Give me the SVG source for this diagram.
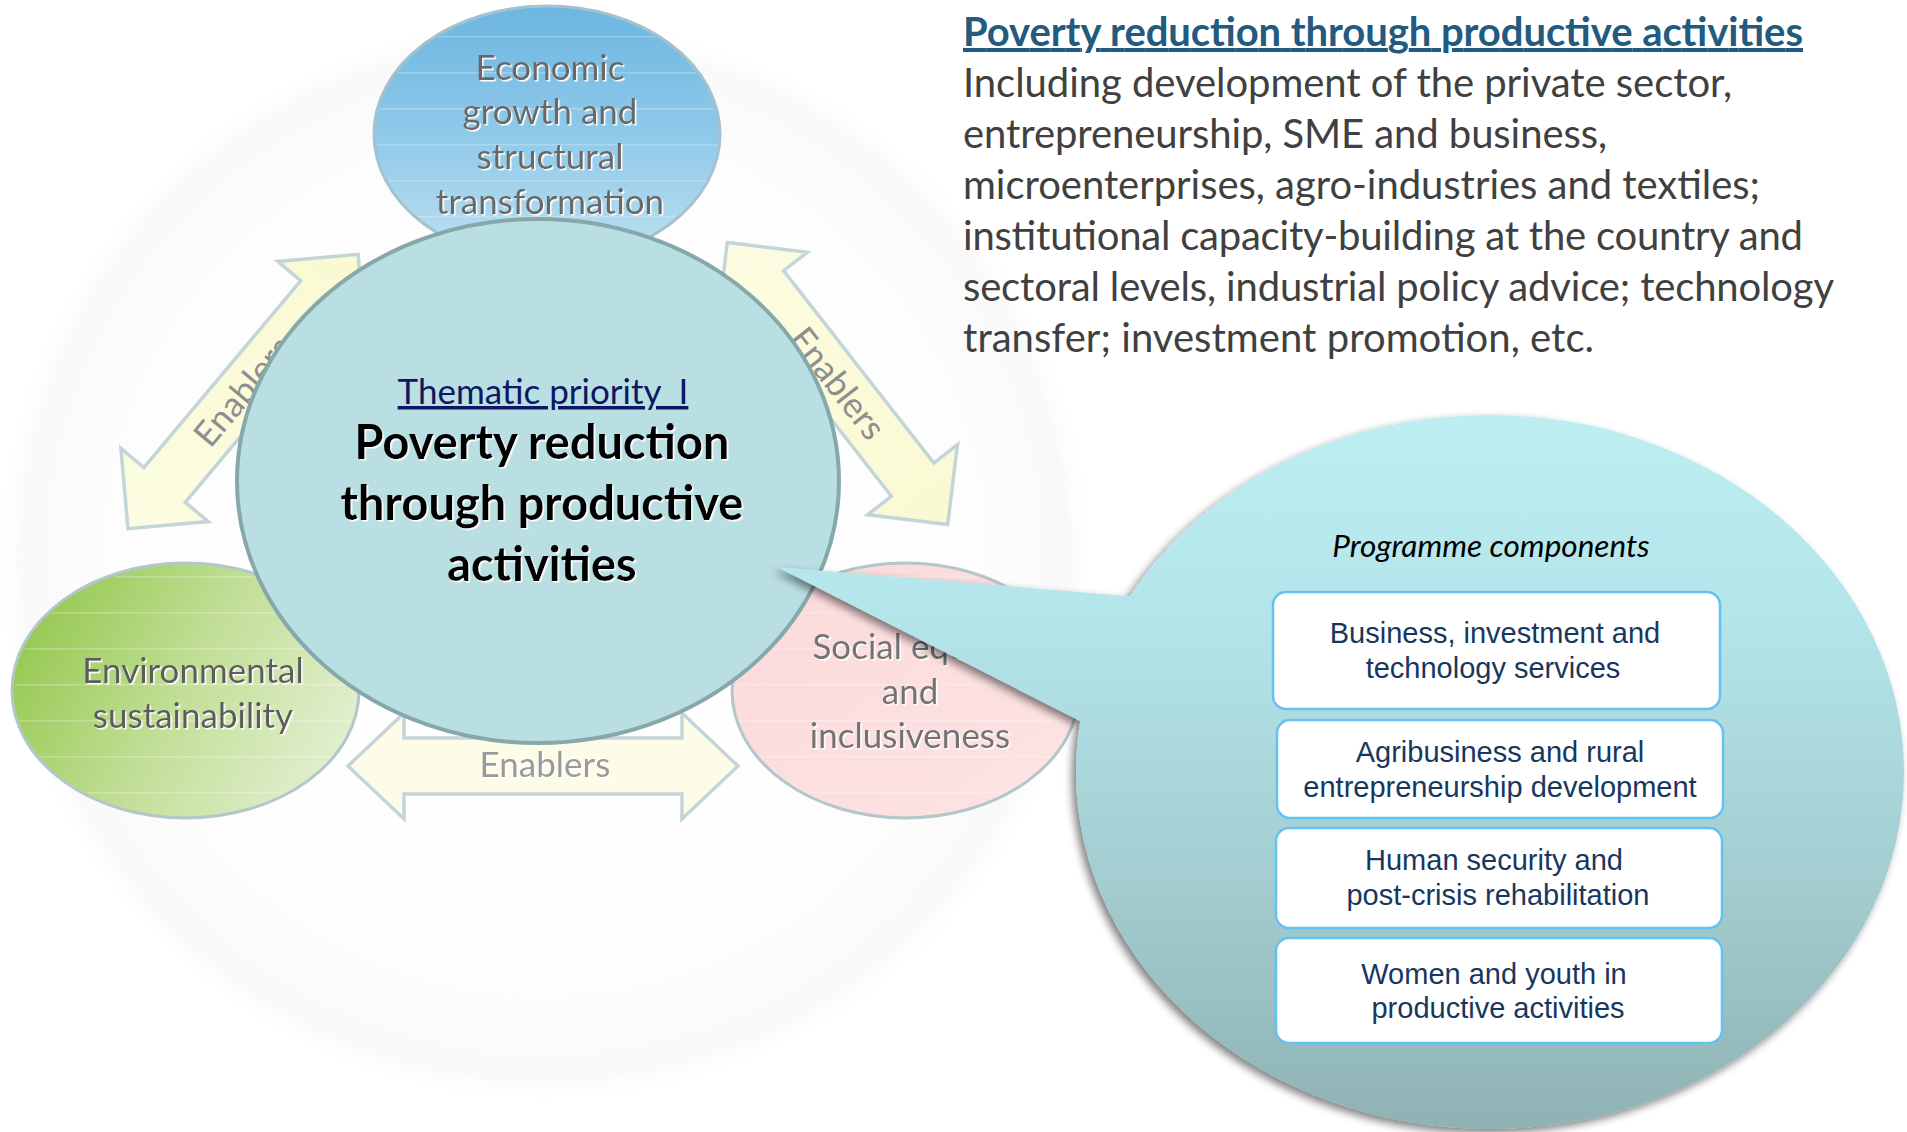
<svg xmlns="http://www.w3.org/2000/svg" width="1907" height="1132" viewBox="0 0 1907 1132">
<style>
.cal{font-family:Lato,"Open Sans","Liberation Sans",sans-serif}
.sat{font-size:35px;fill:#686868;text-anchor:middle}
.enab{font-size:35px;fill:#9a9a9a;text-anchor:middle}
.arrow{stroke:#c3d5d9;stroke-width:3.5;stroke-linejoin:miter}
.sat-stroke{stroke:#b3c7ca;stroke-width:3}
.box{fill:#ffffff;stroke:#62c3f2;stroke-width:2.5}
.boxtxt{font-family:"Liberation Sans",Arial,sans-serif;font-size:29px;fill:#17375e;text-anchor:middle}
.body{font-size:40px;fill:#404040}
.main{font-size:47px;font-weight:bold;fill:#000;text-anchor:middle}
</style>
<defs>
<radialGradient id="bgG" cx="0.5" cy="0.5" r="0.5">
<stop offset="0" stop-color="#ffffff" stop-opacity="0"/>
<stop offset="0.8" stop-color="#fafafa" stop-opacity="0.5"/>
<stop offset="0.95" stop-color="#f5f5f5" stop-opacity="0.6"/>
<stop offset="1" stop-color="#ffffff" stop-opacity="0"/>
</radialGradient>
<linearGradient id="blueG" x1="0" y1="0" x2="0" y2="1">
<stop offset="0" stop-color="#6cb6e1"/>
<stop offset="0.55" stop-color="#93cbea"/>
<stop offset="1" stop-color="#bfe1f1"/>
</linearGradient>
<linearGradient id="greenG" x1="0" y1="0.3" x2="1" y2="0.7">
<stop offset="0" stop-color="#95c84f"/>
<stop offset="0.5" stop-color="#c2df98"/>
<stop offset="1" stop-color="#e4f0d2"/>
</linearGradient>
<linearGradient id="pinkG" x1="0" y1="0" x2="1" y2="1">
<stop offset="0" stop-color="#fbd9da"/>
<stop offset="1" stop-color="#fde4e4"/>
</linearGradient>
<linearGradient id="arrowG" x1="0" y1="0" x2="1" y2="0">
<stop offset="0" stop-color="#fcfce2"/>
<stop offset="1" stop-color="#f9f9d2"/>
</linearGradient>
<linearGradient id="callG" gradientUnits="userSpaceOnUse" x1="0" y1="414" x2="0" y2="1130">
<stop offset="0" stop-color="#bdeef2"/>
<stop offset="0.3" stop-color="#b3e4e9"/>
<stop offset="0.65" stop-color="#a3cdd0"/>
<stop offset="1" stop-color="#8fb2b3"/>
</linearGradient>
<pattern id="stripes" width="12" height="36" patternUnits="userSpaceOnUse">
<rect x="0" y="0" width="12" height="1.5" fill="#ffffff" opacity="0.25"/>
</pattern>
<filter id="tsh" x="-10%" y="-30%" width="120%" height="160%">
<feDropShadow dx="1.5" dy="1.5" stdDeviation="0.6" flood-color="#ffffff" flood-opacity="1"/>
</filter>
<filter id="csh" x="-10%" y="-10%" width="120%" height="125%">
<feGaussianBlur in="SourceAlpha" stdDeviation="4"/>
<feOffset dx="-4" dy="4" result="o"/>
<feComponentTransfer><feFuncA type="linear" slope="0.5"/></feComponentTransfer>
<feMerge><feMergeNode/><feMergeNode in="SourceGraphic"/></feMerge>
</filter>
</defs>

<rect width="1907" height="1132" fill="#ffffff"/>
<ellipse cx="545" cy="560" rx="550" ry="545" fill="url(#bgG)"/>

<g id="node-economic">
<ellipse cx="547" cy="134" rx="173" ry="128" fill="url(#blueG)" stroke="#a3c2cf" stroke-width="3"/>
<ellipse cx="547" cy="134" rx="171" ry="126" fill="url(#stripes)"/>
<g class="cal sat" filter="url(#tsh)">
<text x="550" y="80">Economic</text>
<text x="550" y="124">growth and</text>
<text x="550" y="169">structural</text>
<text x="550" y="214">transformation</text>
</g>
</g>

<g id="node-environment">
<ellipse cx="185.5" cy="690.5" rx="173.5" ry="127.5" fill="url(#greenG)" class="sat-stroke"/>
<ellipse cx="185.5" cy="690.5" rx="171" ry="125" fill="url(#stripes)"/>
<g class="cal sat" filter="url(#tsh)" style="fill:#5c5c5c">
<text x="193" y="683">Environmental</text>
<text x="193" y="728">sustainability</text>
</g>
</g>

<g id="node-social">
<ellipse cx="905.5" cy="690.5" rx="173.5" ry="127.5" fill="url(#pinkG)" class="sat-stroke"/>
<ellipse cx="905.5" cy="690.5" rx="171" ry="125" fill="url(#stripes)"/>
<g class="cal sat" filter="url(#tsh)" style="fill:#727272">
<text x="910" y="659">Social equity</text>
<text x="910" y="704">and</text>
<text x="910" y="748">inclusiveness</text>
</g>
</g>

<g id="connectors">
<g id="enablers-left" transform="translate(243,391.5) rotate(-50)">
<path class="arrow" fill="url(#arrowG)" d="M-179,0 L-122,-57 L-122,-27 L122,-27 L122,-57 L179,0 L122,57 L122,27 L-122,27 L-122,57 Z"/>
<text class="cal enab" x="0" y="12" style="fill:#8e8e8e">Enablers</text>
</g>
<g id="enablers-right" transform="translate(837.5,383.5) rotate(52)">
<path class="arrow" fill="url(#arrowG)" d="M-179,0 L-122,-57 L-122,-27 L122,-27 L122,-57 L179,0 L122,57 L122,27 L-122,27 L-122,57 Z"/>
<text class="cal enab" x="0" y="12" style="fill:#8e8e8e">Enablers</text>
</g>
<g id="enablers-bottom" transform="translate(543,766)">
<path class="arrow" fill="#fcfce8" d="M-195,0 L-139,-53 L-139,-28 L139,-28 L139,-53 L195,0 L139,53 L139,28 L-139,28 L-139,53 Z"/>
<text class="cal enab" x="2" y="11" filter="url(#tsh)">Enablers</text>
</g>
</g>

<g id="node-central">
<ellipse cx="538" cy="481" rx="301" ry="262" fill="#badfe3" stroke="#86a8ab" stroke-width="4"/>
<text class="cal" x="543" y="404" text-anchor="middle" style="font-size:35px;fill:#0e1763;text-decoration:underline;white-space:pre">Thematic priority  I</text>
<g class="cal main" filter="url(#tsh)">
<text x="542" y="459">Poverty reduction</text>
<text x="542" y="520">through productive</text>
<text x="542" y="581">activities</text>
</g>
</g>

<g id="description">
<text class="cal" x="963" y="46" textLength="840" style="font-size:40px;font-weight:bold;fill:#225a80;text-decoration:underline">Poverty reduction through productive activities</text>
<g class="cal body">
<text x="963" y="97" textLength="769">Including development of the private sector,</text>
<text x="963" y="148" textLength="644">entrepreneurship, SME and business,</text>
<text x="963" y="199" textLength="797">microenterprises, agro-industries and textiles;</text>
<text x="963" y="250" textLength="840">institutional capacity-building at the country and</text>
<text x="963" y="301" textLength="871">sectoral levels, industrial policy advice; technology</text>
<text x="963" y="352" textLength="631">transfer; investment promotion, etc.</text>
</g>
</g>

<g id="callout">
<g filter="url(#csh)">
<path fill="url(#callG)" d="M777,567 L1139,597 L1100,680 L1082,722 Z"/>
<ellipse cx="1490" cy="772" rx="414" ry="357" fill="url(#callG)"/>
</g>
<text class="cal" x="1491" y="557" text-anchor="middle" style="font-size:31.5px;font-style:italic;fill:#000">Programme components</text>
</g>

<g id="comp-1">
<rect class="box" x="1273" y="592" width="447" height="117" rx="13"/>
<text class="boxtxt" x="1495" y="643">Business, investment and</text>
<text class="boxtxt" x="1493" y="678">technology services</text>
</g>
<g id="comp-2">
<rect class="box" x="1277" y="720" width="446" height="98" rx="13"/>
<text class="boxtxt" x="1500" y="762">Agribusiness and rural</text>
<text class="boxtxt" x="1500" y="797">entrepreneurship development</text>
</g>
<g id="comp-3">
<rect class="box" x="1276" y="828" width="446" height="100" rx="13"/>
<text class="boxtxt" x="1494" y="870">Human security and</text>
<text class="boxtxt" x="1498" y="905">post-crisis rehabilitation</text>
</g>
<g id="comp-4">
<rect class="box" x="1276" y="938" width="446" height="105" rx="13"/>
<text class="boxtxt" x="1494" y="984">Women and youth in</text>
<text class="boxtxt" x="1498" y="1018">productive activities</text>
</g>
</svg>
